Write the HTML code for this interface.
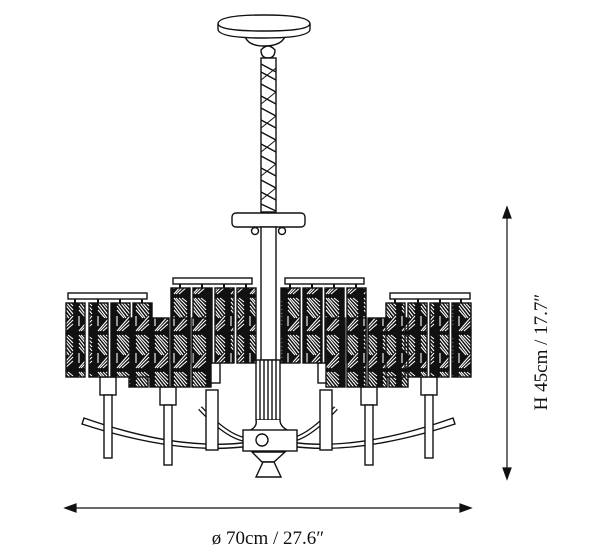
<!DOCTYPE html>
<html><head><style>
html,body{margin:0;padding:0;background:#fff;width:600px;height:557px;overflow:hidden}
svg{display:block}
text{font-family:"Liberation Serif",serif;fill:#111}
</style></head><body>
<svg width="600" height="557" viewBox="0 0 600 557" xmlns="http://www.w3.org/2000/svg">
<defs>
<pattern id="cr" width="19" height="37" patternUnits="userSpaceOnUse">
<rect width="19" height="37" fill="#111"/>
<path d="M3 2 L16 18 M5 2 L16 14 M8 2 L16 10 M11 2 L16 6 M3 6 L14 20 M3 10 L12 22 M16 20 L3 35 M16 24 L5 35 M16 28 L8 35 M3 20 L3 30 M3 14 L10 22" stroke="#fff" stroke-width="1.1" fill="none"/>
</pattern>
</defs>
<g stroke="#111" stroke-width="1.4" fill="#fff">
<!-- canopy -->
<path d="M244 33 Q246 46 264 46 Q284 46 286 33 Z"/>
<path d="M218 24 Q218 15 264 15 Q310 15 310 24 L310 29 Q310 38 264 38 Q218 38 218 29 Z"/>
<path d="M218 24 Q220 31 264 31 Q308 31 310 24" fill="none"/>
<!-- chain -->
<path d="M261 50 Q268 42 275 50 Q275 58 268 58 Q261 58 261 50Z"/>
<rect x="261" y="58" width="15" height="154"/>
<path d="M261 64 L276 72 M261 72 L276 80 M261 84 L276 92 M261 96 L276 104 M261 108 L276 116 M261 120 L276 128 M261 132 L276 140 M261 144 L276 152 M261 156 L276 164 M261 168 L276 176 M261 180 L276 188 M261 192 L276 200 M261 204 L276 211" fill="none"/>
<path d="M276 68 L261 80 M276 92 L261 104 M276 116 L261 128 M276 140 L261 152 M276 164 L261 176 M276 188 L261 200" fill="none" stroke-width="1"/>
<!-- plate -->
<rect x="232" y="213" width="73" height="14" rx="4"/>
<circle cx="255" cy="231" r="3.5"/><circle cx="282" cy="231" r="3.5"/>
<!-- stem -->
<rect x="261" y="227" width="15" height="133"/>
<rect x="256" y="360" width="24" height="60"/>
<path d="M260 360 V420 M264 360 V420 M268 360 V420 M272 360 V420 M276 360 V420" fill="none"/>
<path d="M256 420 Q258 428 246 432 L292 432 Q280 428 280 420"/>
<!-- arms -->
<path d="M84 418 Q180 452 250 442 L250 446 Q180 456 82 424 Z"/>
<path d="M453 418 Q357 452 290 442 L290 446 Q357 456 455 424 Z"/>
<path d="M200 408 Q230 440 250 440" fill="none" stroke-width="5"/>
<path d="M200 408 Q230 440 250 440" fill="none" stroke="#fff" stroke-width="2.5"/>
<path d="M336 408 Q306 440 288 440" fill="none" stroke-width="5"/>
<path d="M336 408 Q306 440 288 440" fill="none" stroke="#fff" stroke-width="2.5"/>
<rect x="243" y="430" width="54" height="21"/>
<circle cx="262" cy="440" r="6"/>
<path d="M252 452 L285 452 L274 462 L262 462 Z"/>
<path d="M263 462 L274 462 L281 477 L256 477 Z"/>
<!-- posts -->
<g>
<rect x="100" y="377" width="16" height="18"/><rect x="104" y="395" width="8" height="63"/>
<rect x="160" y="387" width="16" height="18"/><rect x="164" y="405" width="8" height="60"/>
<rect x="206" y="363" width="14" height="20"/><rect x="206" y="390" width="12" height="60"/>
<rect x="318" y="363" width="14" height="20"/><rect x="320" y="390" width="12" height="60"/>
<rect x="361" y="387" width="16" height="18"/><rect x="365" y="405" width="8" height="60"/>
<rect x="421" y="377" width="16" height="18"/><rect x="425" y="395" width="8" height="63"/>
</g>
<!-- center groups back -->
<rect x="173" y="278" width="79" height="6"/>
<rect x="285" y="278" width="79" height="6"/>
<g fill="url(#cr)">
<rect x="171" y="288" width="19" height="75"/><rect x="193" y="288" width="19" height="75"/><rect x="215" y="288" width="19" height="75"/><rect x="237" y="288" width="19" height="75"/>
<rect x="281" y="288" width="19" height="75"/><rect x="303" y="288" width="19" height="75"/><rect x="325" y="288" width="19" height="75"/><rect x="347" y="288" width="19" height="75"/>
</g>
<!-- inner groups -->
<g fill="url(#cr)">
<rect x="129" y="318" width="19" height="69"/><rect x="150" y="318" width="19" height="69"/><rect x="171" y="318" width="19" height="69"/><rect x="192" y="318" width="19" height="69"/>
<rect x="326" y="318" width="19" height="69"/><rect x="347" y="318" width="19" height="69"/><rect x="368" y="318" width="19" height="69"/><rect x="389" y="318" width="19" height="69"/>
</g>
<!-- outer groups -->
<rect x="68" y="293" width="79" height="6"/>
<rect x="390" y="293" width="80" height="6"/>
<g fill="url(#cr)">
<rect x="66" y="303" width="19" height="74"/><rect x="89" y="303" width="19" height="74"/><rect x="111" y="303" width="19" height="74"/><rect x="133" y="303" width="19" height="74"/>
<rect x="386" y="303" width="19" height="74"/><rect x="408" y="303" width="19" height="74"/><rect x="430" y="303" width="19" height="74"/><rect x="452" y="303" width="19" height="74"/>
</g>
<!-- hooks -->
<path d="M75 299 V303 M98 299 V303 M120 299 V303 M142 299 V303 M395 299 V303 M418 299 V303 M440 299 V303 M461 299 V303 M180 284 V288 M202 284 V288 M224 284 V288 M246 284 V288 M290 284 V288 M312 284 V288 M334 284 V288 M356 284 V288" fill="none" stroke-width="2"/>
</g>
<!-- dimensions -->
<g stroke="#111" stroke-width="1.2" fill="#111">
<line x1="507" y1="212" x2="507" y2="474"/>
<path d="M507 207 L503 218 L511 218 Z"/><path d="M507 479 L503 468 L511 468 Z"/>
<line x1="70" y1="508" x2="466" y2="508"/>
<path d="M65 508 L76 504 L76 512 Z"/><path d="M471 508 L460 504 L460 512 Z"/>
</g>
<text x="268" y="544" font-size="19" text-anchor="middle">ø 70cm / 27.6″</text>
<text transform="translate(547,352) rotate(-90)" font-size="19" text-anchor="middle">H 45cm / 17.7″</text>
</svg>
</body></html>
